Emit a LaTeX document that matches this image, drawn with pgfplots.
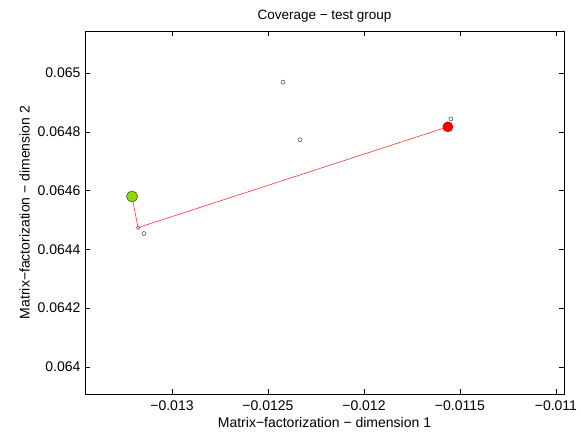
\documentclass[border=0pt]{standalone}
\usepackage{pgfplots}
\pgfplotsset{compat=1.18}
\usepackage{fontspec}
\setmainfont{Liberation Sans}
\definecolor{lgreen}{RGB}{140,220,0}
\begin{document}
\begin{tikzpicture}
\begin{axis}[
  scale only axis, width=479pt, height=363pt,
  xmin=-0.013453, xmax=-0.010958,
  ymin=0.063908, ymax=0.065143,
  xtick={-0.013,-0.0125,-0.012,-0.0115,-0.011},
  ytick={0.064,0.0642,0.0644,0.0646,0.0648,0.065},
  xticklabels={−0.013,−0.0125,−0.012,−0.0115,−0.011},
  yticklabels={0.064,0.0642,0.0644,0.0646,0.0648,0.065},
  scaled ticks=false,
  tick align=inside, tick pos=both,
  major tick length=5pt,
  tick style={black, line width=0.6pt},
  axis line style={black, line width=0.6pt},
  ticklabel style={font=\fontsize{14}{16}\selectfont},
  yticklabel style={xshift=-1pt},
  xticklabel style={yshift=-3pt},
  label style={font=\fontsize{14}{16}\selectfont},
  title style={font=\fontsize{13.5}{15}\selectfont, yshift=-1pt},
  title={Coverage − test group},
  xlabel={Matrix−factorization − dimension 1},
  ylabel={Matrix−factorization − dimension 2},
  xlabel style={yshift=0pt},
  ylabel style={yshift=1pt},
  clip=false,
]
\addplot[red!80, line width=0.6pt, mark=none] coordinates {(-0.013208,0.06458) (-0.013177,0.064474) (-0.011563,0.064817)};
\addplot[only marks, mark=*, mark size=2pt, mark options={draw=gray!70!black, fill=white, line width=0.6pt}] coordinates {(-0.013146,0.064454) (-0.012422,0.064969) (-0.012333,0.064773) (-0.011547,0.064844)};
\addplot[only marks, mark=*, mark size=1.8pt, mark options={draw=red!60!gray, fill=white, line width=0.6pt}] coordinates {(-0.013177,0.064474)};
\addplot[only marks, mark=*, mark size=5.5pt, mark options={draw=gray!60!black, fill=lgreen, line width=0.6pt}] coordinates {(-0.013208,0.06458)};
\addplot[only marks, mark=*, mark size=5pt, mark options={draw=red!80!black, fill=red, line width=0.6pt}] coordinates {(-0.011563,0.064817)};
\end{axis}
\pgfresetboundingbox
\path[use as bounding box] (-85pt,-42pt) rectangle (496pt,394pt);
\end{tikzpicture}
\end{document}
